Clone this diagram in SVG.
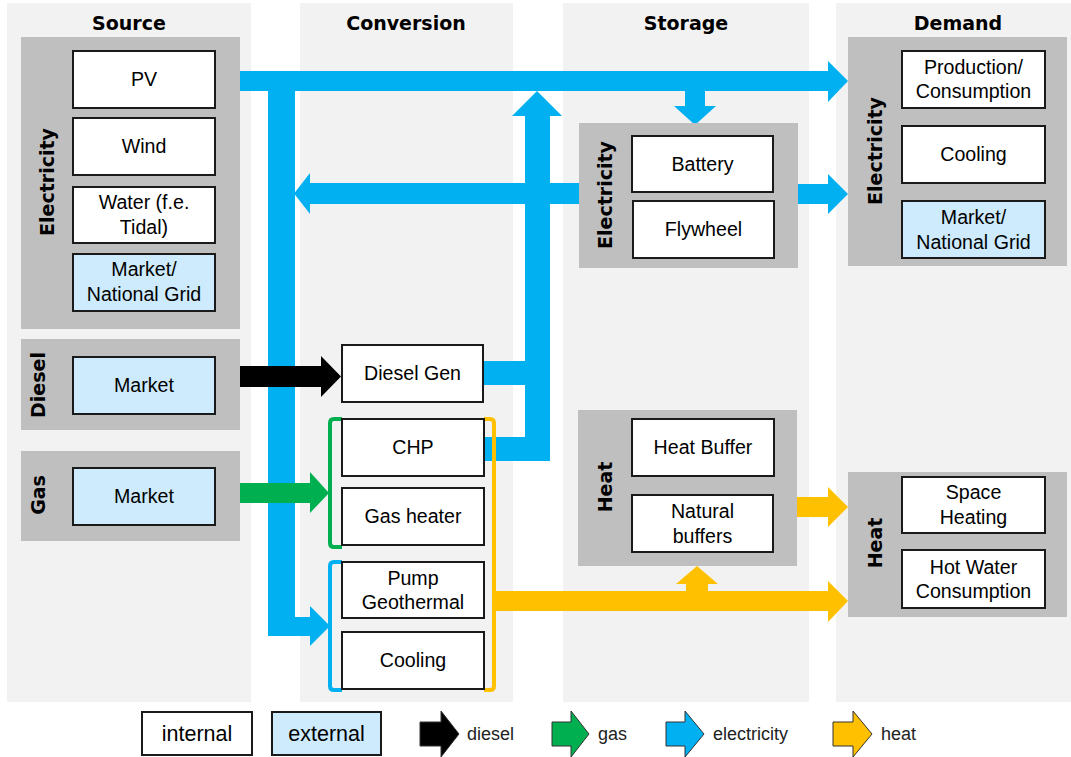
<svg xmlns="http://www.w3.org/2000/svg" width="1071" height="757" viewBox="0 0 1071 757">
<style>
.col{fill:#f2f2f2}
.grp{fill:#bfbfbf}
.box{fill:#ffffff;stroke:#1a1a1a;stroke-width:2}
.ext{fill:#cdebfc;stroke:#1a1a1a;stroke-width:2}
.t{font-family:"Liberation Sans",Arial,sans-serif;font-size:19.6px;fill:#000;text-anchor:middle}
.h{font-family:"DejaVu Sans",Verdana,sans-serif;font-size:19px;font-weight:bold;fill:#000;text-anchor:middle}
.lg{font-family:"Liberation Sans",Arial,sans-serif;font-size:18px;fill:#222}
.lt{font-family:"Liberation Sans",Arial,sans-serif;font-size:21.5px;fill:#000;text-anchor:middle}
.el{fill:#00b0f0}
.gs{fill:#00b050}
.ds{fill:#000}
.ht{fill:#ffc000}
.br{fill:none;stroke-width:4;stroke-linejoin:round}
.la{stroke:#333;stroke-width:1}
</style>
<rect width="1071" height="757" fill="#fff"/>
<g id="columns">
<rect class="col" x="7" y="3" width="244" height="699"/>
<rect class="col" x="300" y="3" width="213" height="699"/>
<rect class="col" x="563" y="3" width="246" height="699"/>
<rect class="col" x="836" y="3" width="235" height="699"/>
<text class="h" x="129" y="30">Source</text>
<text class="h" x="406" y="30">Conversion</text>
<text class="h" x="686" y="30">Storage</text>
<text class="h" x="958" y="30">Demand</text>
</g>
<g id="src-elec">
<rect class="grp" x="21" y="37" width="219" height="292"/>
<text class="h" transform="translate(47,182) rotate(-90)" dy="0.36em">Electricity</text>
</g>
<g id="src-pv"><rect class="box" x="73" y="51" width="142" height="57"/><text class="t" x="144" y="86">PV</text></g>
<g id="src-wind"><rect class="box" x="73" y="118" width="142" height="57"/><text class="t" x="144" y="153">Wind</text></g>
<g id="src-water"><rect class="box" x="73" y="187" width="142" height="56"/><text class="t" x="144" y="209">Water (f.e.</text><text class="t" x="144" y="234">Tidal)</text></g>
<g id="src-grid"><rect class="ext" x="73" y="254" width="142" height="57"/><text class="t" x="144" y="276">Market/</text><text class="t" x="144" y="301">National Grid</text></g>
<g id="src-diesel">
<rect class="grp" x="21" y="339" width="219" height="91"/>
<text class="h" transform="translate(38,385) rotate(-90)" dy="0.36em">Diesel</text>
<rect class="ext" x="73" y="357" width="142" height="57"/><text class="t" x="144" y="392">Market</text>
</g>
<g id="src-gas">
<rect class="grp" x="21" y="451" width="219" height="90"/>
<text class="h" transform="translate(38,495) rotate(-90)" dy="0.36em">Gas</text>
<rect class="ext" x="73" y="468" width="142" height="57"/><text class="t" x="144" y="503">Market</text>
</g>
<g id="connectors">
<path class="el" d="M240,71 H828 V61 L848,81 L828,102 V91 H295 V617 H310 V606 L330,626 L310,646 V636 H268 V91 H240 Z"/>
<path class="el" d="M579,183 V204 H310 V214 L294,193.5 L310,173 V183 Z"/>
<path class="el" d="M685,91 H705 V106 H716 L695,125 L674,106 H685 Z"/>
<path class="el" d="M484,361 H525 V116 H512 L537,91 L562,116 H550 V461 H484 V437 H525 V385 H484 Z"/>
<path class="el" d="M798,184 H828 V174 L848,194 L828,214 V204 H798 Z"/>
<path class="ds" d="M240,366 H321 V356 L341,376.5 L321,397 V387 H240 Z"/>
<path class="gs" d="M240,483 H310 V472 L329,493 L310,513 V503 H240 Z"/>
<path class="ht" d="M496,591 H686 V584 H676 L697,566 L718,584 H708 V591 H828 V581 L848,601 L828,622 V611 H496 Z"/>
<path class="ht" d="M797,497 H828 V487 L848,507 L828,527 V517 H797 Z"/>
<path class="br" stroke="#00b050" d="M342,419 H334 Q330,419 330,423 V543 Q330,547 334,547 H342"/>
<path class="br" stroke="#00b0f0" d="M342,562 H334 Q330,562 330,566 V686 Q330,690 334,690 H342"/>
<path class="br" stroke="#ffc000" d="M484,419 H490 Q494,419 494,423 V686 Q494,690 490,690 H484"/>
</g>
<g id="conv-diesel"><rect class="box" x="342" y="345" width="141" height="57"/><text class="t" x="412.5" y="380">Diesel Gen</text></g>
<g id="conv-chp"><rect class="box" x="342" y="419" width="142" height="57"/><text class="t" x="413" y="454">CHP</text></g>
<g id="conv-gasheater"><rect class="box" x="342" y="488" width="142" height="57"/><text class="t" x="413" y="523">Gas heater</text></g>
<g id="conv-pump"><rect class="box" x="342" y="562" width="142" height="56"/><text class="t" x="413" y="585">Pump</text><text class="t" x="413" y="609">Geothermal</text></g>
<g id="conv-cooling"><rect class="box" x="342" y="632" width="142" height="57"/><text class="t" x="413" y="667">Cooling</text></g>
<g id="sto-elec">
<rect class="grp" x="579" y="123" width="219" height="145"/>
<text class="h" transform="translate(605,195) rotate(-90)" dy="0.36em">Electricity</text>
</g>
<g id="sto-battery"><rect class="box" x="632" y="136" width="141" height="56"/><text class="t" x="702.5" y="171">Battery</text></g>
<g id="sto-flywheel"><rect class="box" x="633" y="201" width="141" height="57"/><text class="t" x="703.5" y="236">Flywheel</text></g>
<g id="sto-heat">
<rect class="grp" x="578" y="410" width="219" height="156"/>
<text class="h" transform="translate(605,487) rotate(-90)" dy="0.36em">Heat</text>
</g>
<g id="sto-heatbuffer"><rect class="box" x="632" y="419" width="142" height="57"/><text class="t" x="703" y="454">Heat Buffer</text></g>
<g id="sto-natural"><rect class="box" x="632" y="495" width="141" height="57"/><text class="t" x="702.5" y="518">Natural</text><text class="t" x="702.5" y="543">buffers</text></g>
<g id="dem-elec">
<rect class="grp" x="848" y="37" width="219" height="229"/>
<text class="h" transform="translate(875,151) rotate(-90)" dy="0.36em">Electricity</text>
</g>
<g id="dem-prod"><rect class="box" x="902" y="51" width="143" height="57"/><text class="t" x="973.5" y="74">Production/</text><text class="t" x="973.5" y="98">Consumption</text></g>
<g id="dem-cooling"><rect class="box" x="902" y="126" width="143" height="57"/><text class="t" x="973.5" y="161">Cooling</text></g>
<g id="dem-grid"><rect class="ext" x="902" y="201" width="143" height="57"/><text class="t" x="973.5" y="224">Market/</text><text class="t" x="973.5" y="249">National Grid</text></g>
<g id="dem-heat">
<rect class="grp" x="848" y="472" width="219" height="145"/>
<text class="h" transform="translate(875,543) rotate(-90)" dy="0.36em">Heat</text>
</g>
<g id="dem-space"><rect class="box" x="902" y="477" width="143" height="56"/><text class="t" x="973.5" y="499">Space</text><text class="t" x="973.5" y="524">Heating</text></g>
<g id="dem-hotwater"><rect class="box" x="902" y="550" width="143" height="58"/><text class="t" x="973.5" y="574">Hot Water</text><text class="t" x="973.5" y="598">Consumption</text></g>
<g id="legend">
<rect class="box" x="142" y="712" width="110" height="43"/><text class="lt" x="197" y="741">internal</text>
<rect class="ext" x="272" y="712" width="109" height="43"/><text class="lt" x="326.5" y="741">external</text>
<path class="ds la" d="M420,722 H441 V711 L459,734 L441,757 V746 H420 Z"/>
<text class="lg" x="467" y="740">diesel</text>
<path class="gs la" d="M552,722 H571 V711 L589,734 L571,757 V746 H552 Z"/>
<text class="lg" x="598" y="740">gas</text>
<path class="el la" d="M666,722 H685 V711 L704,734 L685,757 V746 H666 Z"/>
<text class="lg" x="713" y="740">electricity</text>
<path class="ht la" d="M833,722 H853 V711 L872,734 L853,757 V746 H833 Z"/>
<text class="lg" x="881" y="740">heat</text>
</g>
</svg>
